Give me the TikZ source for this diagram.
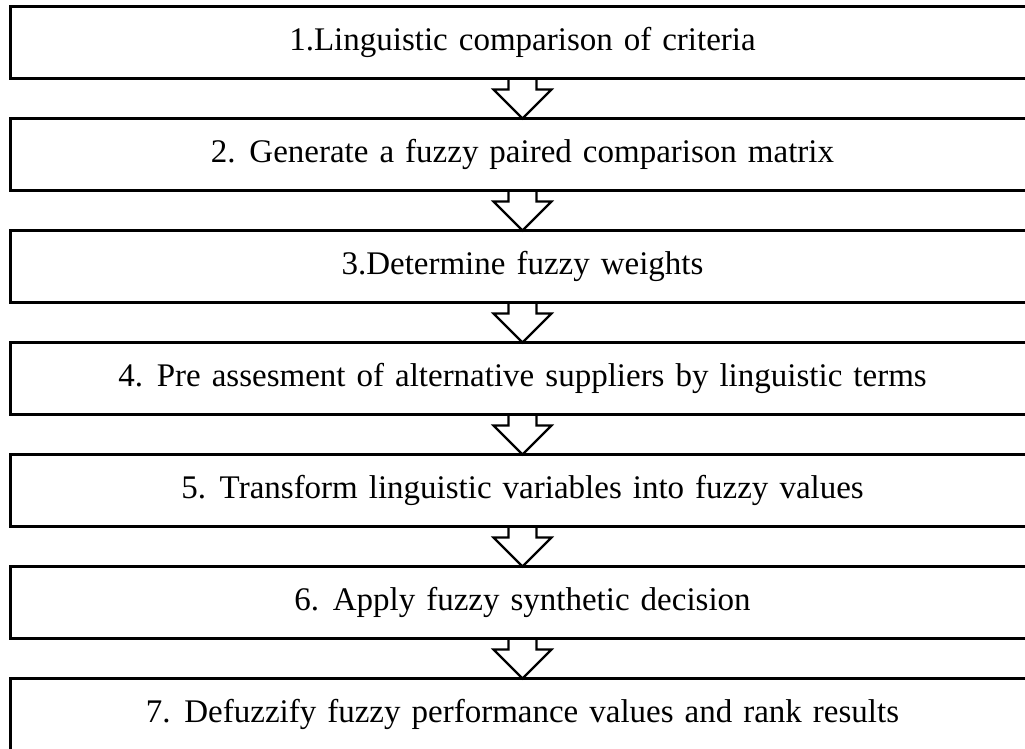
\documentclass[tikz,border=0pt]{standalone}
\usepackage{fontspec}
\setmainfont{Liberation Serif}
\usetikzlibrary{calc}
\begin{document}
\begin{tikzpicture}[x=1pt,y=-1pt,
  stepbox/.style={draw, line width=2.8pt, minimum width=1024pt, minimum height=72pt,
    inner sep=0pt, outer sep=0pt, anchor=north west,
    font={\fontsize{33}{40}\selectfont\spaceskip=11pt\relax}},
  flow/.style={draw, line width=2.2pt, line join=miter}]
\useasboundingbox (0,0) rectangle (1025,749);
\clip (0,0) rectangle (1025,749);

% process steps, one box every 112pt
\node[stepbox] (s1) at (10.5,6.5)   {1.Linguistic comparison of criteria};
\node[stepbox] (s2) at (10.5,118.5) {2. Generate a fuzzy paired comparison matrix};
\node[stepbox] (s3) at (10.5,230.5) {3.Determine fuzzy weights};
\node[stepbox] (s4) at (10.5,342.5) {4. Pre assesment of alternative suppliers by linguistic terms};
\node[stepbox] (s5) at (10.5,454.5) {5. Transform linguistic variables into fuzzy values};
\node[stepbox] (s6) at (10.5,566.5) {6. Apply fuzzy synthetic decision};
\node[stepbox] (s7) at (10.5,678.5) {7. Defuzzify fuzzy performance values and rank results};

% hollow block arrows between consecutive steps
\foreach \a/\b in {s1/s2,s2/s3,s3/s4,s4/s5,s5/s6,s6/s7}
  \draw[flow] ($(\a.south)+(-14,0)$) |- ($(\a.south)+(-29,11)$) -- (\b.north)
    -- ($(\a.south)+(29,11)$) -| ($(\a.south)+(14,0)$);
\end{tikzpicture}
\end{document}
